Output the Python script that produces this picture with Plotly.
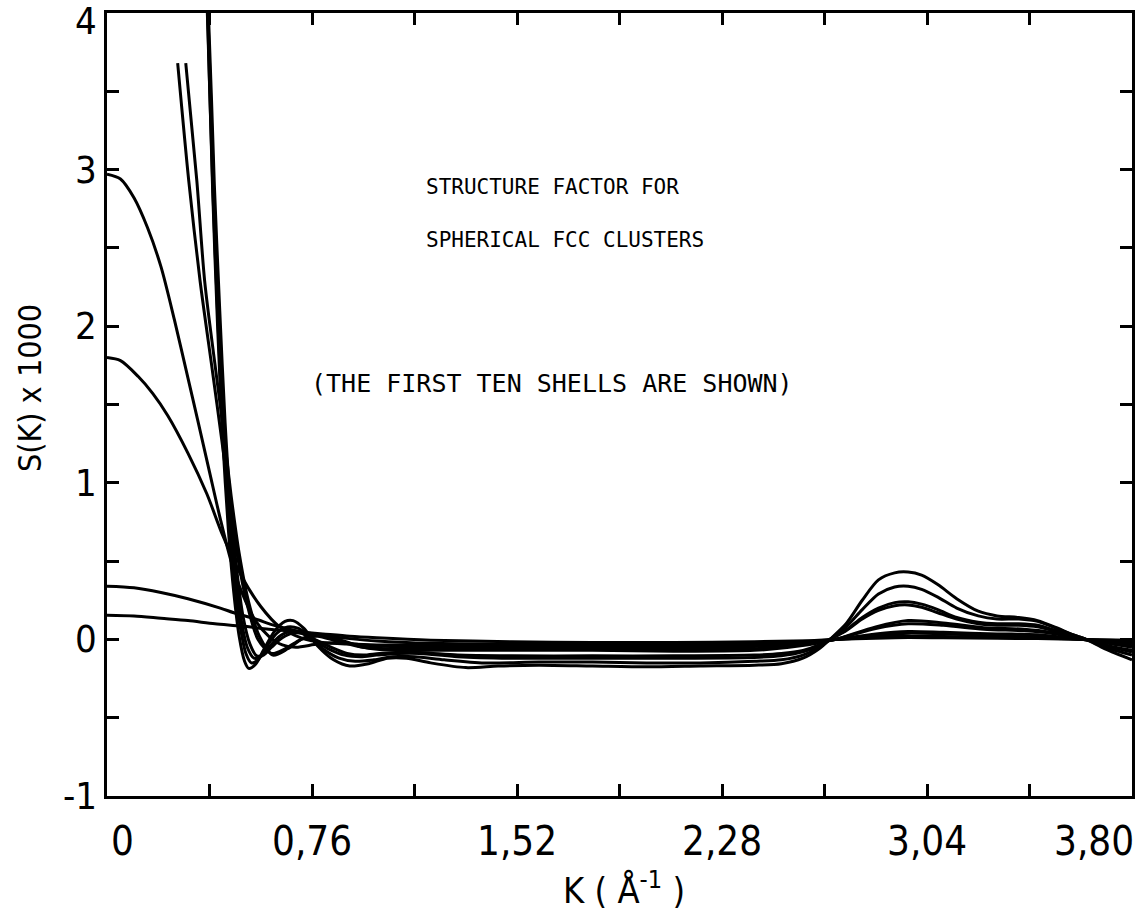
import plotly.graph_objects as go

# ---- data (K in 1/Angstrom, S(K) x 1000) ----
K1 = [0, 0.1, 0.2, 0.3, 0.4, 0.5, 0.6, 0.7, 0.8, 0.9, 1.0, 1.2, 1.5, 1.8, 2.1, 2.4, 2.6, 2.7, 2.85, 2.97, 3.1, 3.3, 3.45, 3.62, 3.8]
S1 = [0.155, 0.15, 0.135, 0.12, 0.10, 0.085, 0.065, 0.05, 0.035, 0.02, 0.01, -0.005, -0.015, -0.02, -0.02, -0.015, -0.008, 0.0, 0.008, 0.012, 0.01, 0.007, 0.005, 0.0, -0.005]

K2 = [0, 0.1, 0.2, 0.3, 0.42, 0.47, 0.55, 0.62, 0.7, 0.8, 0.9, 1.0, 1.2, 1.5, 1.8, 2.1, 2.4, 2.6, 2.7, 2.85, 2.97, 3.1, 3.3, 3.45, 3.62, 3.8]
S2 = [0.34, 0.33, 0.30, 0.26, 0.20, 0.17, 0.13, 0.09, 0.055, 0.025, 0.005, -0.01, -0.025, -0.03, -0.03, -0.03, -0.025, -0.012, 0.0, 0.015, 0.022, 0.018, 0.012, 0.01, 0.0, -0.01]

K3 = [0, 0.05, 0.115, 0.17, 0.225, 0.30, 0.37, 0.43, 0.5, 0.57, 0.64, 0.72, 0.8, 0.9, 1.0, 1.15, 1.4, 1.8, 2.1, 2.4, 2.6, 2.7, 2.85, 2.97, 3.1, 3.3, 3.45, 3.62, 3.8]
S3 = [1.80, 1.78, 1.68, 1.57, 1.43, 1.19, 0.93, 0.66, 0.40, 0.21, 0.08, 0.01, -0.02, -0.03, -0.035, -0.035, -0.04, -0.04, -0.04, -0.035, -0.015, 0.0, 0.025, 0.04, 0.035, 0.025, 0.02, 0.0, -0.02]

K4 = [0, 0.05, 0.10, 0.15, 0.20, 0.25, 0.30, 0.335, 0.38, 0.42, 0.46, 0.50, 0.55, 0.60, 0.65, 0.70, 0.78, 0.86, 0.95, 1.05, 1.2, 1.5, 1.8, 2.1, 2.4, 2.6, 2.7, 2.85, 2.97, 3.1, 3.3, 3.45, 3.62, 3.8]
S4 = [2.97, 2.94, 2.82, 2.63, 2.38, 2.04, 1.67, 1.41, 1.07, 0.77, 0.50, 0.30, 0.12, 0.02, -0.035, -0.05, -0.03, -0.02, -0.035, -0.045, -0.05, -0.05, -0.05, -0.05, -0.045, -0.02, 0.0, 0.035, 0.05, 0.045, 0.035, 0.03, 0.0, -0.03]

K5 = [0.262, 0.303, 0.345, 0.392, 0.425, 0.455, 0.485, 0.52, 0.56, 0.61, 0.66, 0.72, 0.78, 0.85, 0.95, 1.05, 1.2, 1.5, 1.8, 2.1, 2.4, 2.6, 2.7, 2.85, 2.97, 3.1, 3.25, 3.4, 3.5, 3.62, 3.8]
S5 = [3.68, 2.93, 2.29, 1.70, 1.28, 0.88, 0.52, 0.22, 0.0, -0.09, -0.06, 0.0, 0.02, -0.01, -0.05, -0.06, -0.06, -0.06, -0.06, -0.065, -0.06, -0.03, 0.0, 0.07, 0.10, 0.09, 0.065, 0.055, 0.04, 0.0, -0.04]

K6 = [0.292, 0.333, 0.362, 0.40, 0.432, 0.46, 0.49, 0.525, 0.565, 0.615, 0.67, 0.73, 0.79, 0.86, 0.95, 1.05, 1.2, 1.5, 1.8, 2.1, 2.4, 2.6, 2.7, 2.85, 2.97, 3.1, 3.25, 3.4, 3.5, 3.62, 3.8]
S6 = [3.68, 2.93, 2.29, 1.76, 1.33, 0.92, 0.55, 0.24, 0.02, -0.10, -0.06, 0.01, 0.03, 0.0, -0.05, -0.07, -0.07, -0.07, -0.07, -0.075, -0.07, -0.035, 0.0, 0.08, 0.12, 0.105, 0.075, 0.065, 0.045, 0.0, -0.05]

K7 = [0.35, 0.376, 0.398, 0.418, 0.438, 0.458, 0.48, 0.505, 0.53, 0.555, 0.58, 0.61, 0.65, 0.69, 0.73, 0.77, 0.83, 0.89, 0.95, 1.01, 1.09, 1.17, 1.3, 1.5, 1.8, 2.1, 2.4, 2.5, 2.58, 2.64, 2.68, 2.74, 2.80, 2.86, 2.92, 2.97, 3.02, 3.08, 3.15, 3.23, 3.3, 3.38, 3.45, 3.52, 3.58, 3.63, 3.7, 3.8]
S7 = [4.8, 4.0, 2.9, 2.1, 1.38, 0.86, 0.46, 0.14, -0.03, -0.105, -0.10, -0.05, 0.01, 0.04, 0.035, 0.0, -0.05, -0.09, -0.10, -0.09, -0.085, -0.085, -0.10, -0.105, -0.105, -0.105, -0.10, -0.09, -0.07, -0.035, 0.0, 0.055, 0.13, 0.185, 0.215, 0.22, 0.205, 0.17, 0.13, 0.10, 0.09, 0.09, 0.08, 0.05, 0.022, 0.0, -0.035, -0.07]

K8 = [0.35, 0.374, 0.395, 0.415, 0.435, 0.455, 0.475, 0.50, 0.52, 0.545, 0.57, 0.60, 0.64, 0.68, 0.72, 0.76, 0.82, 0.88, 0.94, 1.0, 1.08, 1.16, 1.3, 1.5, 1.8, 2.1, 2.4, 2.5, 2.58, 2.64, 2.68, 2.74, 2.80, 2.86, 2.92, 2.97, 3.02, 3.08, 3.15, 3.23, 3.3, 3.38, 3.45, 3.52, 3.58, 3.63, 3.7, 3.8]
S8 = [5.0, 4.0, 2.9, 2.05, 1.32, 0.80, 0.42, 0.10, -0.05, -0.12, -0.11, -0.05, 0.02, 0.05, 0.04, 0.0, -0.06, -0.10, -0.11, -0.10, -0.09, -0.09, -0.11, -0.12, -0.12, -0.12, -0.115, -0.105, -0.08, -0.04, 0.0, 0.06, 0.14, 0.20, 0.235, 0.24, 0.225, 0.19, 0.14, 0.11, 0.10, 0.10, 0.09, 0.055, 0.025, 0.0, -0.04, -0.08]

K9 = [0.345, 0.372, 0.393, 0.412, 0.432, 0.452, 0.472, 0.495, 0.515, 0.535, 0.56, 0.59, 0.63, 0.67, 0.71, 0.75, 0.80, 0.86, 0.92, 0.99, 1.06, 1.14, 1.25, 1.4, 1.6, 1.8, 2.0, 2.2, 2.4, 2.5, 2.58, 2.64, 2.68, 2.74, 2.80, 2.86, 2.92, 2.97, 3.02, 3.08, 3.15, 3.23, 3.3, 3.38, 3.45, 3.52, 3.58, 3.63, 3.7, 3.8]
S9 = [5.5, 4.0, 2.85, 2.0, 1.28, 0.75, 0.36, 0.07, -0.09, -0.15, -0.13, -0.05, 0.04, 0.08, 0.07, 0.02, -0.06, -0.12, -0.14, -0.13, -0.11, -0.11, -0.13, -0.15, -0.145, -0.145, -0.15, -0.15, -0.14, -0.13, -0.10, -0.05, 0.0, 0.08, 0.19, 0.29, 0.335, 0.34, 0.32, 0.27, 0.20, 0.15, 0.13, 0.13, 0.115, 0.07, 0.03, 0.0, -0.05, -0.10]

K10 = [0.345, 0.373, 0.392, 0.41, 0.43, 0.45, 0.47, 0.49, 0.51, 0.525, 0.55, 0.58, 0.62, 0.66, 0.69, 0.73, 0.78, 0.84, 0.90, 0.97, 1.04, 1.11, 1.2, 1.33, 1.45, 1.6, 1.8, 2.0, 2.2, 2.4, 2.5, 2.58, 2.64, 2.68, 2.74, 2.80, 2.86, 2.92, 2.97, 3.02, 3.08, 3.15, 3.23, 3.3, 3.38, 3.45, 3.52, 3.58, 3.63, 3.7, 3.8]
S10 = [5.8, 4.0, 2.85, 2.0, 1.25, 0.70, 0.30, 0.02, -0.14, -0.185, -0.16, -0.07, 0.05, 0.115, 0.12, 0.07, -0.04, -0.13, -0.17, -0.155, -0.12, -0.12, -0.15, -0.18, -0.17, -0.165, -0.17, -0.175, -0.17, -0.165, -0.155, -0.12, -0.06, 0.0, 0.10, 0.25, 0.38, 0.425, 0.43, 0.41, 0.35, 0.26, 0.18, 0.15, 0.14, 0.12, 0.075, 0.03, 0.0, -0.06, -0.13]

CURVES = [(K1, S1), (K2, S2), (K3, S3), (K4, S4), (K5, S5),
          (K6, S6), (K7, S7), (K8, S8), (K9, S9), (K10, S10)]

XTICK_VALS = [0, 0.38, 0.76, 1.14, 1.52, 1.90, 2.28, 2.66, 3.04, 3.42, 3.80]
XTICK_LABELS = ["0", "", "0,76", "", "1,52", "", "2,28", "", "3,04", "", "3,80"]
YTICK_VALS = [-1, -0.5, 0, 0.5, 1, 1.5, 2, 2.5, 3, 3.5, 4]
YTICK_LABELS = ["-1", "", "0", "", "1", "", "2", "", "3", "", "4"]

TEXT_LINES = ["STRUCTURE FACTOR FOR", "SPHERICAL FCC CLUSTERS", "(THE FIRST TEN SHELLS ARE SHOWN)"]

NARROW = "DejaVu Sans Condensed, DejaVu Sans"
MONO = "DejaVu Sans Mono"

fig = go.Figure()
for kx, sy in CURVES:
    fig.add_trace(go.Scatter(x=kx, y=sy, mode="lines",
                             line=dict(color="black", width=3, shape="spline", smoothing=0.8),
                             showlegend=False, hoverinfo="skip"))

axis_common = dict(showline=True, linecolor="black", linewidth=3, mirror="ticks",
                   ticks="inside", ticklen=12, tickwidth=2.5, tickcolor="black",
                   showgrid=False, zeroline=False, showticklabels=False)

fig.update_xaxes(range=[0, 3.80], tickmode="array", tickvals=XTICK_VALS, **axis_common)
fig.update_yaxes(range=[-1, 4], tickmode="array", tickvals=YTICK_VALS, **axis_common)

annotations = []
# x tick labels (ends pulled inward like the original plotter output)
for v, lab in zip(XTICK_VALS, XTICK_LABELS):
    if not lab:
        continue
    anchor, shift = "center", 0
    if v == XTICK_VALS[0]:
        anchor, shift = "left", 2
    elif v == XTICK_VALS[-1]:
        anchor, shift = "right", 4
    annotations.append(dict(x=v, y=0, xref="x", yref="paper", text=lab, showarrow=False,
                            xanchor=anchor, yanchor="top", yshift=-20, xshift=shift,
                            font=dict(family=NARROW, size=40, color="black")))

# y tick labels
for v, lab in zip(YTICK_VALS, YTICK_LABELS):
    if not lab:
        continue
    ys = -8 if v == YTICK_VALS[-1] else 0
    annotations.append(dict(x=0, y=v, xref="paper", yref="y", text=lab, showarrow=False,
                            xanchor="right", yanchor="middle", xshift=-8, yshift=ys,
                            font=dict(family=NARROW, size=38, color="black")))

# in-plot text
annotations.append(dict(x=1.176, y=2.886, xref="x", yref="y", text=TEXT_LINES[0], showarrow=False,
                        xanchor="left", yanchor="middle", font=dict(family=MONO, size=21, color="black")))
annotations.append(dict(x=1.176, y=2.548, xref="x", yref="y", text=TEXT_LINES[1], showarrow=False,
                        xanchor="left", yanchor="middle", font=dict(family=MONO, size=21, color="black")))
annotations.append(dict(x=0.75, y=1.635, xref="x", yref="y", text=TEXT_LINES[2], showarrow=False,
                        xanchor="left", yanchor="middle", font=dict(family=MONO, size=25, color="black")))

# axis titles
annotations.append(dict(x=0, y=0.521, xref="paper", yref="paper", text="S(K) x 1000", showarrow=False,
                        textangle=-90, xanchor="center", yanchor="middle", xshift=-77,
                        font=dict(family=NARROW, size=32, color="black")))
annotations.append(dict(x=0.504, y=0, xref="paper", yref="paper",
                        text="K ( Å<sup>-1</sup> )", showarrow=False,
                        xanchor="center", yanchor="middle", yshift=-92,
                        font=dict(family=NARROW, size=36, color="black")))

fig.update_layout(width=1145, height=916,
                  margin=dict(l=107, r=10, t=13, b=120),
                  paper_bgcolor="white", plot_bgcolor="white",
                  annotations=annotations)

fig.write_html("out.html")
